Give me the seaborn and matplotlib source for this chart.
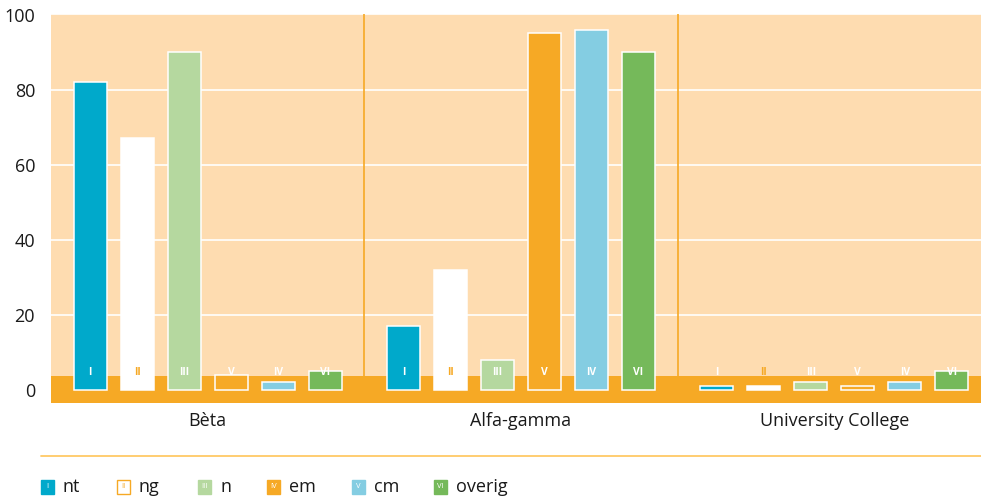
import matplotlib
matplotlib.use("Agg")
import matplotlib.pyplot as plt
from matplotlib.patches import Rectangle
from matplotlib.lines import Line2D
import seaborn as sns
import pandas as pd

# ── Data ──────────────────────────────────────────────────────────────────────
groepen = ["Bèta", "Alfa-gamma", "University College"]
series  = ["nt", "ng", "n", "em", "cm", "overig"]
nt      = [82, 17, 1]
ng      = [67, 32, 1]
n       = [90, 8, 2]
em      = [4, 95, 1]
cm      = [2, 96, 2]
overig  = [5, 90, 5]
bar_labels    = ["I", "II", "III", "V", "IV", "VI"]   # as printed in the bars
legend_labels = ["I", "II", "III", "IV", "V", "VI"]
y_ticks = [0, 20, 40, 60, 80, 100]

# ── Style ─────────────────────────────────────────────────────────────────────
ORANGE = "#F6A925"
PEACH  = "#FEDCB0"
colors = ["#00A9CB", "#FFFFFF", "#B5D89F", ORANGE, "#84CDE2", "#75B95A"]
label_colors = ["white", ORANGE, "white", "white", "white", "white"]

sns.set_style("white")
plt.rcParams["font.family"] = ["Open Sans", "DejaVu Sans"]

df = pd.DataFrame({
    "groep": groepen * len(series),
    "serie": [s for s in series for _ in groepen],
    "waarde": nt + ng + n + em + cm + overig,
})

W, H = 981, 498
fig = plt.figure(figsize=(W / 100, H / 100), dpi=100)
ax = fig.add_axes([51 / W, 1 - 402.7 / H, (991 - 51) / W, (402.7 - 14.5) / H])
ax.set_facecolor(PEACH)

sns.barplot(data=df, x="groep", y="waarde", hue="serie", order=groepen,
            hue_order=series, palette=colors, width=0.9, gap=0.3,
            edgecolor="white", linewidth=1.1, saturation=1, ax=ax,
            legend=False, zorder=3)

ax.set_ylim(-3.5, 100)
ax.set_xlim(-0.5, 2.5)
ax.axhspan(-3.5, 3.6, color=ORANGE, lw=0, zorder=2)
for xv in (0.5, 1.5):
    ax.axvline(xv, color=ORANGE, lw=1.2, zorder=1)

ax.set_yticks(y_ticks)
ax.yaxis.grid(True, color="white", lw=1.2)
ax.set_axisbelow(True)
ax.tick_params(axis="y", length=0, pad=11.5, labelsize=13, labelcolor="#1a1a1a")
ax.tick_params(axis="x", length=0, pad=7, labelsize=13, labelcolor="#1a1a1a")
ax.set_xlabel("")
ax.set_ylabel("")
sns.despine(ax=ax, left=True, bottom=True)

# roman numerals inside the bars
for i, cont in enumerate(ax.containers):
    for bar in cont:
        ax.text(bar.get_x() + bar.get_width() / 2, 4.6, bar_labels[i],
                ha="center", va="center", fontsize=7.5, fontweight="bold",
                color=label_colors[i], zorder=4)

# ── Legend (manual) ───────────────────────────────────────────────────────────
def fx(px):
    return px / W

def fy(py):
    return 1 - py / H

fig.add_artist(Line2D([fx(41), 1], [fy(455.7), fy(455.7)],
                      color="#FFC966", lw=1.3, transform=fig.transFigure))

marker_x = [41, 117, 198, 267, 352, 434]
for i, name in enumerate(series):
    x0 = marker_x[i]
    edge = ORANGE if colors[i] == "#FFFFFF" else colors[i]
    fig.add_artist(Rectangle((fx(x0), fy(494)), 13 / W, 14.5 / H,
                             facecolor=colors[i], edgecolor=edge, lw=1,
                             transform=fig.transFigure))
    fig.text(fx(x0 + 6.5), fy(486.7), legend_labels[i], ha="center", va="center",
             fontsize=5.5, color=label_colors[i])
    fig.text(fx(x0 + 22), fy(487), name, ha="left", va="center",
             fontsize=13, color="#1a1a1a")

fig.savefig("out.png", dpi=100)
